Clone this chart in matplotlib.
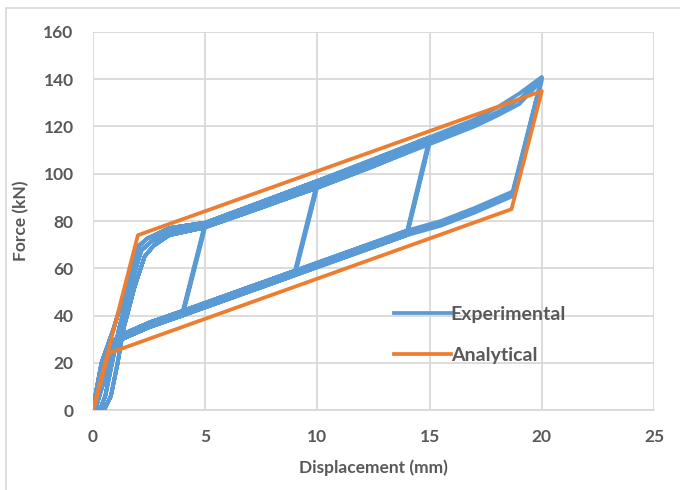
import numpy as np
import matplotlib
matplotlib.use("Agg")
import matplotlib.pyplot as plt
from matplotlib.lines import Line2D

plt.rcParams["font.family"] = ["Lato", "DejaVu Sans"]
plt.rcParams["font.weight"] = "bold"
plt.rcParams["axes.labelweight"] = "bold"

BLUE = "#5b9bd5"
ORANGE = "#ed7d31"
GREY_TXT = "#595959"
GRID = "#d9d9d9"

# Analytical bilinear loop
ana_x = [0, 2.0, 20.0, 18.65, 0.7, 0]
ana_y = [0, 74, 135, 85, 24, 0]

# Experimental: initial loading paths (three repeats per amplitude)
load_x = [[0.3, 0.55, 0.85, 1.15, 1.65, 2.15, 2.55, 3.4],
          [0.0, 0.1, 0.38, 0.9, 1.5, 2.05, 2.4, 3.4],
          [0.5, 0.8, 1.1, 1.35, 1.85, 2.3, 2.7, 3.4]]
load_y = [[0, 6, 20, 34, 52, 67.5, 71, 75.5],
          [0, 6, 20, 34, 52, 69.5, 72.5, 77],
          [0, 6, 20, 34, 52, 65, 69.5, 74]]

# unloading tails back to zero force
tail_x = [[1.0, 0.6, 0.2, 0.0],
          [0.85, 0.45, 0.12, 0.0],
          [1.1, 0.75, 0.35, 0.1]]
tail_y = [[30, 20, 7, 0],
          [28, 18, 5, 0],
          [29, 20, 8, 0]]

# upper (loading) and lower (unloading) branches per amplitude
up5_x = [5.0]
up5_y = [[78.5], [79.3], [77.3]]
down5_x = [4.0, 2.5, 1.3]
down5_y = [[41, 36, 31], [42, 37, 32], [40, 35, 30]]

up10_x = [5.0, 7.5, 10.0]
up10_y = [[78.5, 87, 95.8], [79.3, 88, 97], [77.3, 85.5, 94.5]]
down10_x = [9.0, 6.5, 4.0, 2.5, 1.3]
down10_y = [[58, 49.5, 41, 36, 31], [59, 50.5, 42, 37, 32], [57, 48.5, 40, 35, 30]]

up15_x = [5.0, 10.0, 12.5, 15.0]
up15_y = [[78.5, 95.5, 104.5, 114], [79.3, 97, 106, 115.5], [77.3, 94, 103, 113]]
down15_x = [14.0, 11.5, 9.0, 6.5, 4.0, 2.5, 1.3]
down15_y = [[75, 66.5, 58, 49.5, 41, 36, 31], [76, 67.5, 59, 50.5, 42, 37, 32],
            [74, 65.5, 57, 48.5, 40, 35, 30]]

up20_x = [5.0, 10.0, 15.0, 17.0, 18.0, 19.0, 20.0]
up20_y = [[78.5, 95.5, 114, 121.5, 126, 131.5, 140.5], [79.3, 97, 115.5, 123, 128, 134, 141],
          [77.3, 94, 112.5, 120, 124.5, 129.5, 139.5]]
down20_x = [18.7, 17.0, 15.5, 14.0, 11.5, 9.0, 6.5, 4.0, 2.5, 1.3]
down20_y = [[91.5, 84.5, 79, 75, 66.5, 58, 49.5, 41, 36, 31],
            [92.5, 85.5, 80, 76, 67.5, 59, 50.5, 42, 37, 32],
            [90.5, 83.5, 78, 74, 65.5, 57, 48.5, 40, 35, 30]]

cycles = [(up5_x, up5_y, down5_x, down5_y),
          (up10_x, up10_y, down10_x, down10_y),
          (up15_x, up15_y, down15_x, down15_y),
          (up20_x, up20_y, down20_x, down20_y)]

exp_x, exp_y = [], []
for ux, uy, dx, dy in cycles:
    for r in range(3):
        exp_x += load_x[r] + ux + dx + tail_x[r]
        exp_y += load_y[r] + uy[r] + dy[r] + tail_y[r]

fig = plt.figure(figsize=(6.8, 4.9), dpi=100)
ax = fig.add_axes([93 / 680, 80 / 490, 561 / 680, 378 / 490])

ax.plot(exp_x, exp_y, color=BLUE, lw=2.7, label="Experimental", solid_joinstyle="round", zorder=3)
ax.plot(ana_x, ana_y, color=ORANGE, lw=2.7, label="Analytical", solid_joinstyle="round", zorder=4)

ax.set_xlim(0, 25)
ax.set_ylim(0, 160)
ax.set_xticks(range(0, 26, 5))
ax.set_yticks(range(0, 161, 20))
ax.grid(True, color=GRID, lw=1.3)
ax.set_axisbelow(True)
for s in ["top", "right", "left"]:
    ax.spines[s].set_visible(False)
ax.spines["bottom"].set_color(GRID)
ax.spines["bottom"].set_linewidth(1.3)
ax.tick_params(length=0, labelsize=12.5, labelcolor=GREY_TXT, pad=14)

ax.set_xlabel("Displacement (mm)", fontsize=12.5, fontweight="bold", color=GREY_TXT, labelpad=10)
ax.set_ylabel("Force (kN)", fontsize=12.5, fontweight="bold", color=GREY_TXT, labelpad=10)

ax.legend(loc="upper left", bbox_to_anchor=(0.52, 0.301), frameon=False, borderpad=0,
          handlelength=2.9, handletextpad=0.0, labelspacing=1.25,
          prop={"size": 14, "weight": "bold"}, labelcolor=GREY_TXT)

# outer chart frame
fig.add_artist(Line2D([5.5 / 680, 5.5 / 680], [0, 1 - 8 / 490], color=GRID, lw=1.2))
fig.add_artist(Line2D([5.5 / 680, 1], [1 - 8 / 490, 1 - 8 / 490], color=GRID, lw=1.2))

fig.savefig("out.png", dpi=100)
